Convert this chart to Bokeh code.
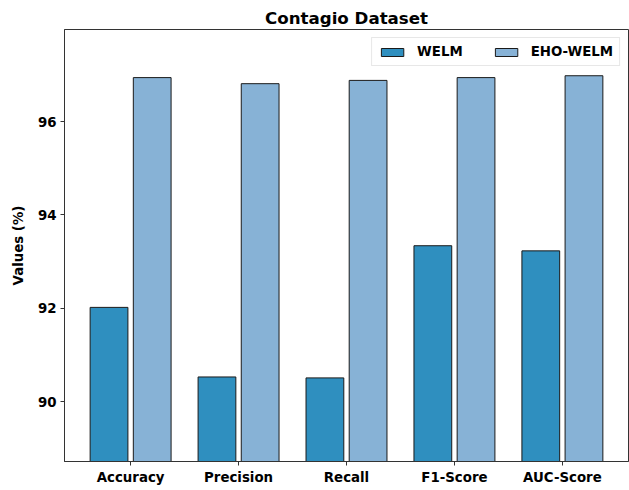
from bokeh.plotting import figure
from bokeh.models import ColumnDataSource, FixedTicker, Range1d, Legend, LegendItem, Title
from bokeh.embed import file_html
from bokeh.resources import INLINE

# Metric names and scores (%) for both models
metrics = ["Accuracy", "Precision", "Recall", "F1-Score", "AUC-Score"]
welm = [92.02, 90.53, 90.51, 93.34, 93.23]
eho_welm = [96.94, 96.81, 96.88, 96.94, 96.98]
y_ticks = [90, 92, 94, 96]

FONT = "DejaVu Sans"
idx = list(range(len(metrics)))
offset = 0.2
bar_w = 0.35

src = ColumnDataSource(dict(
    x1=[i - offset for i in idx],
    x2=[i + offset for i in idx],
    welm=welm,
    eho=eho_welm,
))

p = figure(width=629, height=490, output_backend="svg", toolbar_location=None,
           x_range=Range1d(-0.6125, 4.6125), y_range=Range1d(88.72, 97.97),
           min_border_left=64, min_border_right=1, min_border_bottom=29, min_border_top=29)

p.add_layout(Title(text="Contagio Dataset", align="center", text_font=FONT,
                   text_font_size="12.5pt", text_font_style="bold", text_color="#000000",
                   standoff=4, offset=0), "above")

r1 = p.vbar(x="x1", top="welm", bottom=88.72, width=bar_w, source=src,
            fill_color="#2f8fbf", line_color="#1a1a1a", line_width=1)
r2 = p.vbar(x="x2", top="eho", bottom=88.72, width=bar_w, source=src,
            fill_color="#87b2d6", line_color="#1a1a1a", line_width=1)

p.xgrid.visible = False
p.ygrid.visible = False

p.xaxis.ticker = FixedTicker(ticks=idx)
p.xaxis.major_label_overrides = {i: m for i, m in enumerate(metrics)}
p.yaxis.ticker = FixedTicker(ticks=y_ticks)
p.yaxis.axis_label = "Values (%)"

for ax in (p.xaxis, p.yaxis):
    ax.major_label_text_font = FONT
    ax.major_label_text_font_size = "10pt"
    ax.major_label_text_font_style = "bold"
    ax.major_label_text_color = "#000000"
    ax.major_tick_in = 0
    ax.major_tick_out = 4
    ax.minor_tick_line_color = None
    ax.axis_line_color = "#333333"
    ax.major_tick_line_color = "#333333"
p.yaxis.axis_label_text_font = FONT
p.yaxis.axis_label_text_font_size = "10pt"
p.yaxis.axis_label_text_font_style = "bold"
p.yaxis.axis_label_text_color = "#000000"
p.yaxis.axis_label_standoff = 9
p.xaxis.major_label_standoff = 4
p.yaxis.major_label_standoff = 4

p.outline_line_color = "#333333"
p.outline_line_width = 1

legend = Legend(items=[LegendItem(label="WELM", renderers=[r1]),
                       LegendItem(label="EHO-WELM", renderers=[r2])],
                location="top_right", orientation="horizontal",
                label_text_font=FONT, label_text_font_size="10pt",
                label_text_font_style="bold", label_text_color="#000000",
                glyph_width=28, glyph_height=10, label_standoff=11,
                spacing=29, padding=6, margin=8,
                border_line_color="#d0d0d0", border_line_width=1,
                background_fill_alpha=0.8)
p.add_layout(legend)

open("out.html", "w").write(file_html(p, INLINE))
